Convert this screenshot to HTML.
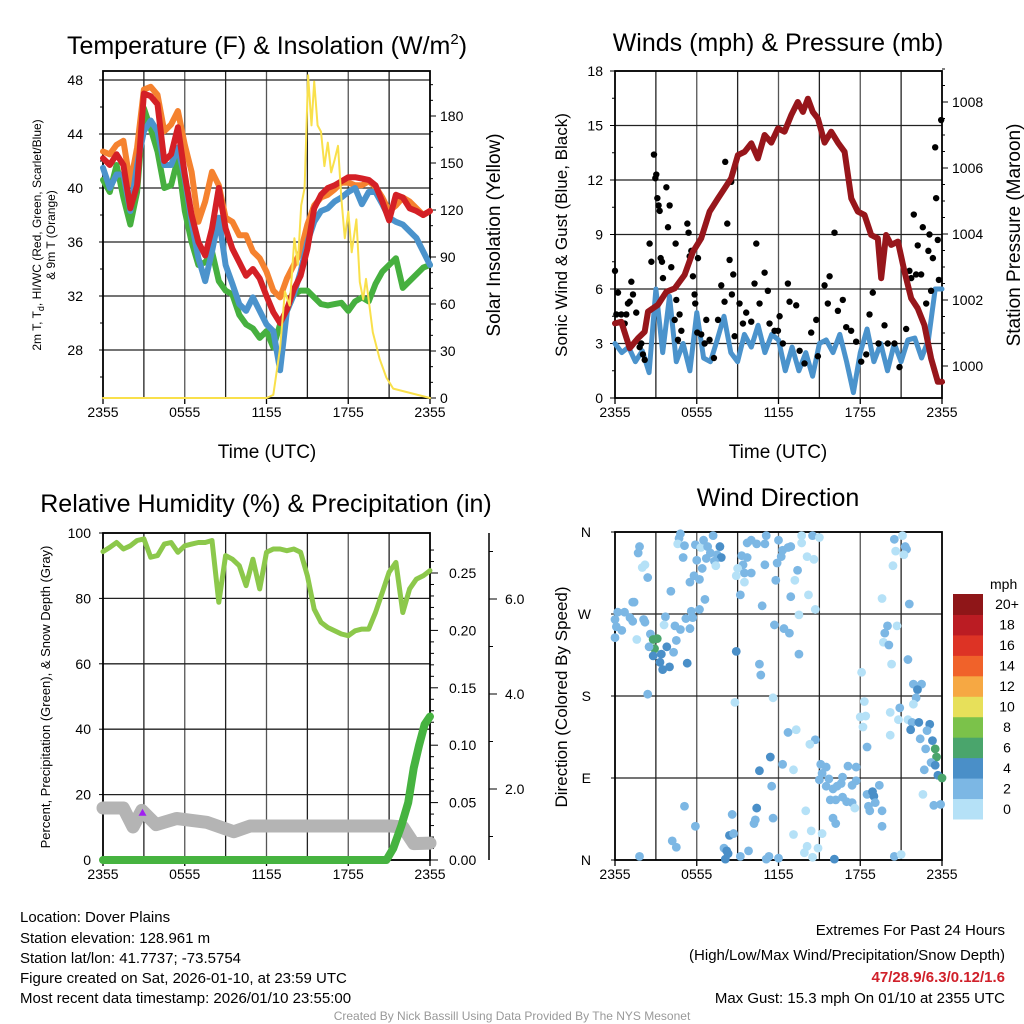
<!DOCTYPE html>
<html><head><meta charset="utf-8"><style>
html,body{margin:0;padding:0;background:#fff}
svg{display:block;font-family:"Liberation Sans",Arial,sans-serif}
</style></head><body>
<svg id="svg" width="1024" height="1024" viewBox="0 0 1024 1024" xmlns="http://www.w3.org/2000/svg">
<g id="g"></g>
<g font-size="25" text-anchor="middle">
<text x="267" y="54">Temperature (F) &amp; Insolation (W/m<tspan dy="-10" font-size="15">2</tspan><tspan dy="10">)</tspan></text>
<text x="778" y="51">Winds (mph) &amp; Pressure (mb)</text>
<text x="266" y="512">Relative Humidity (%) &amp; Precipitation (in)</text>
<text x="778" y="506">Wind Direction</text>
</g>
<g font-size="19" text-anchor="middle">
<text x="267" y="458">Time (UTC)</text>
<text x="778" y="458">Time (UTC)</text>
<text transform="translate(500,235) rotate(-90)">Solar Insolation (Yellow)</text>
<text transform="translate(1020,235) rotate(-90)">Station Pressure (Maroon)</text>
<text font-size="17" transform="translate(567,235) rotate(-90)">Sonic Wind &amp; Gust (Blue, Black)</text>
<text font-size="17" transform="translate(567,697) rotate(-90)">Direction (Colored By Speed)</text>
<text font-size="12" transform="translate(41,235) rotate(-90)">2m T, T<tspan font-size="9" dy="3">d</tspan><tspan dy="-3">, HI/WC (Red, Green, Scarlet/Blue)</tspan></text>
<text font-size="12" transform="translate(55,235) rotate(-90)">&amp; 9m T (Orange)</text>
<text font-size="13" transform="translate(50,697) rotate(-90)">Percent, Precipitation (Green), &amp; Snow Depth (Gray)</text>
</g>
<g font-size="15">
<text x="20" y="922">Location: Dover Plains</text>
<text x="20" y="943">Station elevation: 128.961 m</text>
<text x="20" y="963">Station lat/lon: 41.7737; -73.5754</text>
<text x="20" y="983">Figure created on Sat, 2026-01-10, at 23:59 UTC</text>
<text x="20" y="1003">Most recent data timestamp: 2026/01/10 23:55:00</text>
</g>
<g font-size="15" text-anchor="end">
<text x="1005" y="935">Extremes For Past 24 Hours</text>
<text x="1005" y="960">(High/Low/Max Wind/Precipitation/Snow Depth)</text>
<text x="1005" y="982" fill="#d0202a" font-weight="bold">47/28.9/6.3/0.12/1.6</text>
<text x="1005" y="1003">Max Gust: 15.3 mph On 01/10 at 2355 UTC</text>
</g>
<text x="512" y="1020" font-size="12" fill="#999" text-anchor="middle">Created By Nick Bassill Using Data Provided By The NYS Mesonet</text>
</svg>
<script>
// ---------- DATA ----------
const xTickLabels = ["2355","0555","1155","1755","2355"];
const halfHours = [];
for (let i = 0; i <= 48; i++) halfHours.push(i / 2);
const tempRed = [42.2,41.7,42.5,41.7,38.5,40.2,47,46.8,46.2,42,42.5,44.5,41,38,36,35,37,40,37,35.5,34.5,33.5,34,33.3,32,30.8,30,31,32.5,33.5,35.5,38.5,39.5,40,40.2,40.5,40.8,40.8,40.7,40.6,40.2,39,37.6,39.5,39.3,38.5,38.3,38,38.3];
const tempOrange = [42.7,42.5,43.2,43.5,40.3,43,47.3,47.5,46.9,44.2,44.7,45.7,43.2,41.2,37.5,39,41.2,40.2,37.8,37.5,36.5,36.5,35.3,34.8,33.8,32.4,31.9,33.3,34.3,35.3,37.3,38.7,39.3,39.5,39.9,40.4,40.4,40.2,40.2,40.5,40.1,39.3,38.3,38.7,39.3,39,38.5,38,38.3];
const tempGreen = [40.6,39.7,41.7,39.3,37.3,39.7,45.9,44.4,42.7,40,40.2,42.2,38.3,36,34.3,34.5,35.3,33.1,32.4,32.1,30.6,29.9,29.6,28.9,29.4,28.2,29.9,30.9,32.1,32.4,32.4,31.9,31.4,31.3,31.4,31.5,30.9,31.6,31.9,31.6,32.9,33.8,34.3,34.8,32.6,33.1,33.6,34.1,34.3];
const tempBlue = [41.5,40,41,41,38.3,41.7,44.2,45,44.2,41.7,41.7,43,40.7,37.5,34.8,33.1,35.3,37.8,34.3,32.9,31.4,30.9,31.9,30.9,29.9,29.4,26.5,30.9,32.1,33.8,36,37.5,38.3,38.5,39,39.3,39.7,40,38.8,39.7,39.7,38.8,37.8,37.5,37.3,36.8,36.3,35.3,34.3];
const solarHours = [0,12.0,12.5,13.0,13.35,13.7,14.05,14.3,14.55,14.8,15.05,15.3,15.5,15.75,16.0,16.25,16.5,16.75,17.0,17.25,17.5,17.75,18.0,18.25,18.6,18.85,19.1,19.3,19.8,20.3,20.8,21.3,24];
const solarValues = [0,0,2,32,68,59,102,85,123,134,206,174,202,174,170,148,163,144,152,161,127,102,119,93,114,74,63,76,42,25,13,6,0];
const tempTicks = [28,32,36,40,44,48];
const solarTicks = [0,30,60,90,120,150,180];

const pressHours = [0,.46,1.08,1.69,2.18,2.42,3.15,3.77,4.38,5.11,5.72,6.33,6.94,7.56,8.04,8.53,9.02,9.51,10,10.49,10.98,11.47,11.96,12.44,12.93,13.42,13.79,14.16,14.52,14.89,15.38,15.87,16.36,16.85,17.34,17.82,18.31,18.8,19.29,19.54,19.9,20.27,20.76,21.25,21.74,22.22,22.71,23.2,23.69,24];
const pressValues = [1001.29,1001.34,1000.54,1000.84,1001.04,1001.65,1001.85,1002.25,1002.35,1002.76,1003.46,1003.87,1004.68,1005.08,1005.38,1005.69,1006.39,1006.49,1006.75,1006.29,1007.0,1006.77,1007.2,1007.1,1007.6,1008.0,1007.7,1008.1,1007.7,1007.5,1006.77,1007.1,1006.77,1006.49,1005.08,1004.68,1004.58,1003.97,1003.87,1002.66,1003.97,1003.67,1003.77,1002.86,1002.05,1001.75,1001.24,1000.23,999.52,999.52];
const windValues = [3.0,2.5,2.8,2.0,2.6,1.4,6.0,2.5,5.6,2.0,3.0,1.5,4.7,2.2,2.0,3.2,4.5,2.5,2.0,3.5,2.8,4.0,2.5,3.5,3.2,1.5,2.8,1.5,2.5,1.2,3.0,3.2,2.5,3.5,2.0,0.3,2.5,3.8,2.0,3.0,1.5,3.0,2.0,3.2,3.3,2.2,3.2,6.0,6.0];
const gustHours = [0,.22,.1,.46,.71,.83,.95,1.08,1.2,1.32,1.56,1.81,1.93,2.05,2.18,2.54,2.67,2.86,2.96,3.03,3.11,3.2,3.28,3.35,3.45,3.52,3.77,3.89,4.01,4.13,4.38,4.45,4.5,4.62,4.74,4.87,5.31,5.4,5.48,5.6,5.72,5.84,5.89,6.09,6.04,6.33,6.58,6.7,6.94,7.26,7.56,7.8,8.04,8.09,8.24,8.41,8.53,8.58,8.68,8.78,9.14,9.39,9.63,10,10.24,10.37,10.61,10.98,11.22,11.34,11.71,11.96,12.08,12.32,12.69,12.81,13.3,13.55,13.91,14.4,14.77,14.89,15.38,15.62,15.75,16.11,16.36,16.72,16.97,17.33,17.7,18.07,18.44,18.68,18.92,19.34,19.78,20.02,20.51,20.88,21.37,21.61,21.74,21.93,22.1,22.22,22.47,22.59,22.84,23.0,23.08,23.2,23.33,23.5,23.57,23.69,23.77,23.94];
const gustValues = [7.0,5.8,4.6,4.6,4.1,4.6,5.2,5.3,6.4,5.7,4.7,2.8,3.0,2.4,2.1,8.5,7.5,13.4,12.1,12.3,11.0,10.6,10.3,7.7,7.5,6.6,11.6,9.4,10.6,7.2,4.3,8.5,5.4,3.2,4.6,3.7,9.6,9.1,7.8,8.1,6.7,5.7,5.2,7.7,3.6,3.5,3.0,4.3,3.2,2.2,4.3,6.2,5.3,13.0,9.6,7.6,11.9,5.7,6.8,3.4,5.2,4.1,4.7,4.2,6.3,8.5,5.2,6.9,5.9,4.1,3.7,3.7,4.5,3.0,6.3,5.3,5.1,2.6,1.9,3.6,4.3,2.3,6.2,5.2,6.7,9.1,4.8,5.4,3.9,3.7,3.1,2.0,2.4,4.6,5.8,3.0,4.0,3.0,3.0,1.7,3.8,7.0,6.6,10.1,6.8,8.4,6.8,9.4,5.2,8.1,9.0,5.9,7.7,13.8,11.0,8.7,6.5,15.3];
const windTicks = [0,3,6,9,12,15,18];
const pressTicks = [1000,1002,1004,1006,1008];

const rhValues = [94.3,95.6,97.1,95.1,96.1,97.7,98.2,92.6,93.1,96.6,97.1,94.1,96.1,96.6,97.1,97.1,97.7,78.8,93.1,92,90,83.9,92,82.9,94.1,95.1,95.1,94.6,95.1,94.1,86.9,76.7,72.7,71.1,70.1,69.1,68.6,70.1,70.6,70.6,75.7,81.8,88,91,75.7,82.9,85.9,86.9,88.5];
const precipHours = [0,20.8,21.3,21.9,22.4,22.8,23.2,23.6,24];
const precipValues = [0,0,0.01,0.03,0.05,0.08,0.1,0.118,0.125];
const snowHours = [0,1.5,2.2,2.85,3.9,5.4,7.6,9.6,10.8,21.1,22.0,22.8,24];
const snowValues = [1.6,1.6,1.2,1.55,1.25,1.38,1.3,1.1,1.22,1.22,1.2,0.85,0.86];
const rhTicks = [0,20,40,60,80,100];
const precipTicks = ["0.00","0.05","0.10","0.15","0.20","0.25"];
const snowTicks = ["2.0","4.0","6.0"];

const dirHours = [4.8,4.7,4.6,5.1,5.9,6.3,6.5,7.2,6.8,7.7,7.0,7.5,7.8,7.3,7.4,6.7,6.0,5.0,1.8,1.7,2.2,2.0,2.4,5.8,6.2,5.5,6.4,4.1,6.6,6.2,5.6,5.7,5.2,4.8,5.5,4.4,3.7,3.6,1.3,1.4,0.2,0.7,1.1,1.3,2.1,2.2,0,0.1,0.5,0,1.6,2.6,3.1,2.8,2.9,2.5,3.8,3.4,2.8,4.3,4.5,3.3,3.5,4.0,5.3,2.4,
9.7,10.0,10.4,11.0,11.1,12.0,12.7,12.3,12.9,13.7,14.5,15.0,13.7,11.9,12.2,11.0,9.3,9.7,9.4,9.0,9.5,10.0,8.9,9.5,11.8,13.4,13.2,14.1,14.6,14.2,12.9,14.7,13.5,10.8,9.2,11.7,12.4,12.8,13.5,8.9,10.6,10.7,
8.8,11.6,12.7,13.3,14.7,14.3,11.4,12.3,13.1,10.6,11.5,10.4,10.3,10.2,11.6,8.6,8.4,8.7,8.0,8.2,8.3,8.1,9.2,9.8,11.1,11.3,12.0,4.2,4.5,1.8,5.1,5.9,
15.1,15.5,15.2,15.0,15.7,15.5,16.0,16.3,16.6,16.7,17.1,17.7,17.4,17.7,15.8,16.2,16.7,17.0,17.4,17.6,14.0,14.4,15.2,14.1,13.9,14.5,14.9,16.1,16.0,16.2,13.1,
18.1,18.3,18.4,18.0,18.2,18.5,18.5,18.9,19.0,18.6,18.7,19.1,19.4,19.6,19.6,20.2,20.2,20.9,20.8,21.5,20.3,20.0,19.8,19.7,20.1,20.7,19.6,21.6,20.4,20.5,21.1,20.6,21.3,21.4,21.2,
21.9,22.5,22.2,22.1,21.9,21.5,21.8,22.3,23.1,22.9,21.7,22.4,23.3,22.8,23.5,23.6,23.2,22.7,23.5,23.7,24.0,22.6,23.4,23.9,20.5,21.0];
const dirValues = [358,353,347,345,346,343,351,356,344,344,337,335,332,328,323,331,329,332,344,337,324,321,310,312,308,305,320,295,286,275,273,266,265,253,254,257,267,258,283,283,272,272,266,262,264,261,264,256,252,244,242,248,243,242,232,234,234,226,224,228,241,217,209,212,216,182,
348,351,347,347,356,351,343,340,344,356,356,354,348,326,333,324,334,332,324,320,315,315,312,305,307,318,307,333,330,291,289,275,269,279,291,258,254,249,226,229,215,203,
173,178,140,143,132,127,113,105,99,98,81,57,44,40,46,50,27,29,13,10,7,1,4,10,1,4,2,21,14,4,59,37,
105,102,95,88,89,81,78,81,84,91,103,102,82,87,66,66,69,64,63,57,54,32,29,15,8,3,13,1,46,40,28,
206,174,158,157,146,124,72,75,70,59,54,63,82,54,37,137,162,167,154,220,215,257,249,239,236,257,287,281,323,352,356,339,344,341,335,
193,193,187,178,171,154,151,151,149,142,143,133,131,122,122,113,107,99,104,93,90,72,60,61,4,6];
const dirSpeeds = [3,3,1,3,3,1,3,3,3,5,3,3,5,3,1,3,3,3,3,3,1,1,3,3,3,3,3,3,3,3,3,3,3,3,3,3,3,1,3,3,3,3,3,3,3,3,3,3,3,3,1,3,7,7,7,3,5,5,5,3,3,5,5,5,5,3,
3,3,3,3,3,3,3,3,3,1,3,1,1,3,3,3,3,3,3,1,3,3,1,1,3,3,1,1,1,1,3,1,1,3,3,3,3,3,3,5,3,3,
1,1,3,1,3,1,5,3,1,5,3,5,3,3,3,3,5,3,3,5,5,5,3,3,3,3,3,3,3,3,3,3,
3,3,3,3,3,3,3,3,3,3,3,3,3,3,3,3,3,3,3,1,1,1,1,1,1,1,1,5,3,3,1,
1,1,1,1,1,3,3,5,5,3,3,3,3,3,3,1,1,3,1,3,1,3,3,1,3,1,1,3,1,3,1,1,3,3,1,
3,3,5,3,1,1,3,5,5,3,5,3,5,3,7,7,3,3,5,5,7,1,3,3,3,1];
const dirTickLabels = ["N","E","S","W","N"];
const speedLabels = ["0","2","4","6","8","10","12","14","16","18","20+"];
const speedColors = ["#b5e1f7","#7cb7e4","#4a8fc8","#4aa56c","#7bc24a","#e7e05a","#f6a843","#f0622a","#dd3325","#bb1c23","#8f1618"];

// ---------- HELPERS ----------
const NS = "http://www.w3.org/2000/svg";
const root = document.getElementById("g");
function mk(tag, attrs, parent) {
  const e = document.createElementNS(NS, tag);
  for (const k in attrs) e.setAttribute(k, attrs[k]);
  (parent || root).appendChild(e);
  return e;
}
function linScale(d0, d1, r0, r1) { return v => r0 + (v - d0) * (r1 - r0) / (d1 - d0); }
function pathFrom(xs, ys, sx, sy) {
  let d = "";
  for (let i = 0; i < xs.length; i++) d += (i ? "L" : "M") + sx(xs[i]).toFixed(1) + "," + sy(ys[i]).toFixed(1);
  return d;
}
function frame(L, T, R, B, hGrid, name) {
  const g = mk("g", {});
  
  
  const step = (R - L) / 8;
  for (let i = 1; i < 8; i++) {
    const ln = mk("line", {x1: L + i * step, x2: L + i * step, y1: T, y2: B, stroke: i % 2 ? "#222" : "#555", "stroke-width": 1.3}, g);
    
    
  }
  hGrid.forEach(y => {
    const ln = mk("line", {x1: L, x2: R, y1: y, y2: y, stroke: "#222", "stroke-width": 1.3}, g);
    
    
  });
  const bx = mk("rect", {x: L, y: T, width: R - L, height: B - T, fill: "none", stroke: "#000", "stroke-width": 1.8}, g);
  
  
  for (let i = 0; i < 5; i++) {
    const x = L + i * (R - L) / 4;
    const tk = mk("line", {x1: x, x2: x, y1: B, y2: B + 6, stroke: "#000", "stroke-width": 1.3}, g);
    
    
    const t = mk("text", {x: x, y: B + 19, "font-size": 14, "text-anchor": "middle"}, g);
    t.textContent = xTickLabels[i];
    
    
  }
}
function label(x, y, txt, anchor, size, name) {
  const t = mk("text", {x: x, y: y, "font-size": size || 14, "text-anchor": anchor});
  t.textContent = txt;
  
  
  return t;
}
function tick(x1, y1, x2, y2) {
  const t = mk("line", {x1, y1, x2, y2, stroke: "#000", "stroke-width": 1});
  
  
}
function series(xs, ys, sx, sy, color, w, name) {
  const p = mk("path", {d: pathFrom(xs, ys, sx, sy), fill: "none", stroke: color, "stroke-width": w, "stroke-linejoin": "round", "stroke-linecap": "round"});
  
  
}

// ---------- PANEL 1: TEMPERATURE ----------
{
  const L = 103, R = 430, T = 71, B = 398;
  const sx = linScale(0, 24, L, R);
  const sy = linScale(28, 48, 350, 80);
  const sSolar = linScale(0, 180, 398, 116);
  frame(L, T, R, B, tempTicks.map(sy), "temperature-panel");
  tempTicks.forEach(v => { label(L - 20, sy(v) + 5, String(v), "end", 14, "temp-tick-label"); tick(L - 4, sy(v), L, sy(v)); });
  for (let v = 26; v <= 48; v += 2) tick(L - 3, sy(v), L, sy(v));
  for (let v = 0; v <= 200; v += 10) tick(R, sSolar(v), R + (v % 30 ? 3 : 6), sSolar(v));
  solarTicks.forEach(v => label(R + 10, sSolar(v) + 5, String(v), "start", 14, "solar-tick-label"));
  series(halfHours, tempOrange, sx, sy, "#f5822f", 6, "series-9m-temperature");
  series(halfHours, tempGreen, sx, sy, "#46b03f", 6, "series-dewpoint");
  series(halfHours, tempBlue, sx, sy, "#4b93cc", 6, "series-temperature");
  series(halfHours, tempRed, sx, sy, "#d42026", 6, "series-heat-index-windchill");
  series(solarHours, solarValues, sx, sSolar, "#f9e04b", 2, "series-solar-insolation");
}

// ---------- PANEL 2: WINDS ----------
{
  const L = 615, R = 942, T = 71, B = 398;
  const sx = linScale(0, 24, L, R);
  const sy = linScale(0, 18, 398, 71);
  const sp = linScale(1000, 1008, 366, 102);
  frame(L, T, R, B, windTicks.map(sy), "winds-panel");
  windTicks.forEach(v => label(L - 12, sy(v) + 5, String(v), "end", 14, "wind-tick-label"));
  for (let v = 0; v <= 18; v += 1.5) tick(L - (v % 3 ? 3 : 5), sy(v), L, sy(v));
  for (let v = 999.5; v <= 1009; v += 0.5) tick(R, sp(v), R + (v % 2 ? 3 : 6), sp(v));
  pressTicks.forEach(v => label(R + 10, sp(v) + 5, String(v), "start", 14, "pressure-tick-label"));
  series(halfHours, windValues, sx, sy, "#4b93cc", 5, "series-sonic-wind");
  const gg = mk("g", {});
  
  
  for (let i = 0; i < gustHours.length; i++) {
    const c = mk("circle", {cx: sx(gustHours[i]), cy: sy(gustValues[i]), r: 3.2, fill: "#000"}, gg);
    
    
  }
  series(pressHours, pressValues, sx, sp, "#97161b", 6, "series-station-pressure");
}

// ---------- PANEL 3: HUMIDITY ----------
{
  const L = 103, R = 430, T = 533, B = 860;
  const sx = linScale(0, 24, L, R);
  const sy = linScale(0, 100, 860, 533);
  const sPr = linScale(0, 0.25, 860, 573);
  const sSn = linScale(0, 2, 884, 789);
  frame(L, T, R, B, rhTicks.map(sy), "humidity-panel");
  rhTicks.forEach(v => { label(L - 12, sy(v) + 5, String(v), "end", 14, "rh-tick-label"); tick(L - 4, sy(v), L, sy(v)); });
  for (let v = 0; v <= 0.28; v += 0.01) tick(R, sPr(v), R + (Math.round(v * 100) % 5 ? 4 : 8), sPr(v));
  precipTicks.forEach(s => label(R + 19, sPr(+s) + 5, s, "start", 14, "precip-tick-label"));
  const ax = mk("line", {x1: 489, x2: 489, y1: 533, y2: 860, stroke: "#000", "stroke-width": 1.5});
  
  
  for (let v = 1; v <= 7; v++) tick(489, sSn(v), 489 + (v % 2 ? 4 : 8), sSn(v));
  snowTicks.forEach(s => label(505, sSn(+s) + 5, s, "start", 14, "snow-tick-label"));
  series(halfHours, rhValues, sx, sy, "#8cc84b", 5, "series-relative-humidity");
  series(snowHours, snowValues, sx, sSn, "#b4b4b4", 13, "series-snow-depth");
  const pm = mk("path", {d: "M" + sx(2.9) + "," + (sSn(1.5) - 4) + "l4,7h-8z", fill: "#a020f0"});
  
  
  series(precipHours, precipValues, sx, sPr, "#46b340", 8, "series-precipitation");
}

// ---------- PANEL 4: WIND DIRECTION ----------
{
  const L = 615, R = 942, T = 532, B = 860;
  const sx = linScale(0, 24, L, R);
  const sy = linScale(0, 360, 860, 532);
  frame(L, T, R, B, [0, 90, 180, 270, 360].map(sy), "direction-panel");
  dirTickLabels.forEach((s, i) => { label(L - 24, sy(i * 90) + 5, s, "end", 14, "direction-tick-label"); tick(L - 4, sy(i * 90), L, sy(i * 90)); });
  const dg = mk("g", {});
  
  
  for (let i = 0; i < dirHours.length; i++) {
    const bin = Math.min(10, Math.floor(dirSpeeds[i] / 2));
    const c = mk("circle", {cx: sx(dirHours[i]), cy: sy(dirValues[i]), r: 4.4, fill: speedColors[bin]}, dg);
    
    
  }
  const cb = mk("g", {});
  
  
  const h = (819 - 594) / 11;
  for (let i = 0; i < 11; i++) {
    const y = 819 - (i + 1) * h;
    const r = mk("rect", {x: 953, y: y, width: 30, height: h + 0.5, fill: speedColors[i]}, cb);
    
    
    const t = mk("text", {x: 1007, y: y + h / 2 + 5, "font-size": 14, "text-anchor": "middle"}, cb);
    t.textContent = speedLabels[i];
    
    
  }
  const u = mk("text", {x: 990, y: 589, "font-size": 14}, cb);
  u.textContent = "mph";
  
  
}
</script>
</body></html>
